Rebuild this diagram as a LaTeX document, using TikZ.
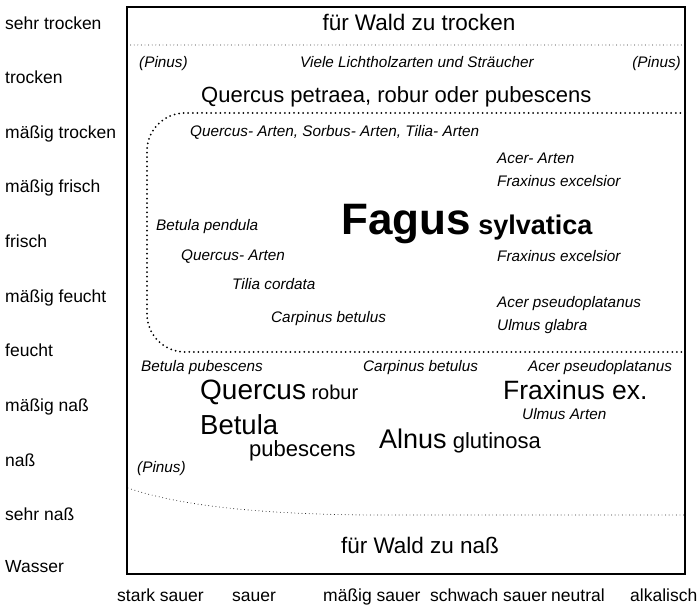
\documentclass[tikz,border=0pt]{standalone}
\usepackage{fontspec}
\setmainfont{Liberation Sans}
\newcommand\fsz[1]{\fontsize{#1}{#1}\selectfont}
\tikzset{
  axlab/.style={inner sep=0pt, anchor=base west, font=\fsz{17.5}},
  itlab/.style={inner sep=0pt, anchor=base west, font=\fsz{15.3}\itshape},
  biglab/.style={inner sep=0pt, anchor=base west},
  ctrlab/.style={inner sep=0pt, anchor=base, font=\fsz{22.5}},
  finedots/.style={line width=0.9pt, dash pattern=on 0pt off 3.6pt, line cap=round},
  bigdots/.style={line width=2pt, dash pattern=on 0pt off 4.6pt, line cap=round},
  framebox/.style={line width=1.2pt}
}
\begin{document}
\begin{tikzpicture}[x=1pt,y=-1pt]
\useasboundingbox (0,0) rectangle (697,609);
% frame
\draw[framebox] (127,7) rectangle (685,574);
% dotted separators
\draw[finedots] (127,45) -- (685,45);
\draw[finedots] (128,488) .. controls (180,506) and (260,514) .. (367,515) -- (685,515);
\draw[bigdots, rounded corners=38] (685,113) -- (147,113) -- (147,352) -- (685,352);
% left axis
\node[axlab] (m1) at (5,30) {sehr trocken};
\node[axlab] (m2) at (5,84) {trocken};
\node[axlab] (m3) at (5,139) {mäßig trocken};
\node[axlab] (m4) at (5,193) {mäßig frisch};
\node[axlab] (m5) at (5,248) {frisch};
\node[axlab] (m6) at (5,303) {mäßig feucht};
\node[axlab] (m7) at (5,357) {feucht};
\node[axlab] (m8) at (5,412) {mäßig naß};
\node[axlab] (m9) at (5,467) {naß};
\node[axlab] (m10) at (5,521) {sehr naß};
\node[axlab] (m11) at (5,573) {Wasser};
% bottom axis
\node[axlab] (p1) at (117,602) {stark sauer};
\node[axlab] (p2) at (232,602) {sauer};
\node[axlab] (p3) at (323,602) {mäßig sauer};
\node[axlab] (p4) at (430,602) {schwach sauer};
\node[axlab] (p5) at (551,602) {neutral};
\node[axlab] (p6) at (630,602) {alkalisch};
% top
\node[ctrlab] (trocken) at (419,31) {für Wald zu trocken};
\node[itlab] (pin1) at (139,68) {(Pinus)};
\node[itlab] (viele) at (300,68) {Viele Lichtholzarten und Sträucher};
\node[itlab, anchor=base east] (pin2) at (681,68) {(Pinus)};
\node[biglab, font=\fsz{22}] (qprp) at (201,103) {Quercus petraea, robur oder pubescens};
% inner region
\node[itlab] (qst) at (190,137) {Quercus- Arten, Sorbus- Arten, Tilia- Arten};
\node[itlab] (acer1) at (497,164) {Acer- Arten};
\node[itlab] (frax1) at (497,187) {Fraxinus excelsior};
\node[biglab] (fagus) at (341,235) {\fsz{44}\bfseries Fagus\fsz{27} sylvatica};
\node[itlab] (betpen) at (156,231) {Betula pendula};
\node[itlab] (qarten) at (181,261) {Quercus- Arten};
\node[itlab] (frax2) at (497,262) {Fraxinus excelsior};
\node[itlab] (tilia) at (232,290) {Tilia cordata};
\node[itlab] (acer2) at (497,308) {Acer pseudoplatanus};
\node[itlab] (carp1) at (271,323) {Carpinus betulus};
\node[itlab] (ulmus1) at (497,331) {Ulmus glabra};
% wet part
\node[itlab] (betpub) at (141,372) {Betula pubescens};
\node[itlab] (carp2) at (363,372) {Carpinus betulus};
\node[itlab] (acer3) at (528,372) {Acer pseudoplatanus};
\node[biglab] (qrob) at (200,400) {\fsz{28}Quercus\fsz{20} robur};
\node[biglab, font=\fsz{26.5}] (fraxex) at (503,400) {Fraxinus ex.};
\node[itlab] (ulmus2) at (522,420) {Ulmus Arten};
\node[biglab, font=\fsz{27.5}] (betula) at (200,435) {Betula};
\node[biglab, font=\fsz{22}] (pubesc) at (249,457) {pubescens};
\node[biglab] (alnus) at (379,449) {\fsz{27}Alnus\fsz{22} glutinosa};
\node[itlab] (pin3) at (137,473) {(Pinus)};
\node[ctrlab] (nass) at (420,554) {für Wald zu naß};
\end{tikzpicture}
\end{document}
